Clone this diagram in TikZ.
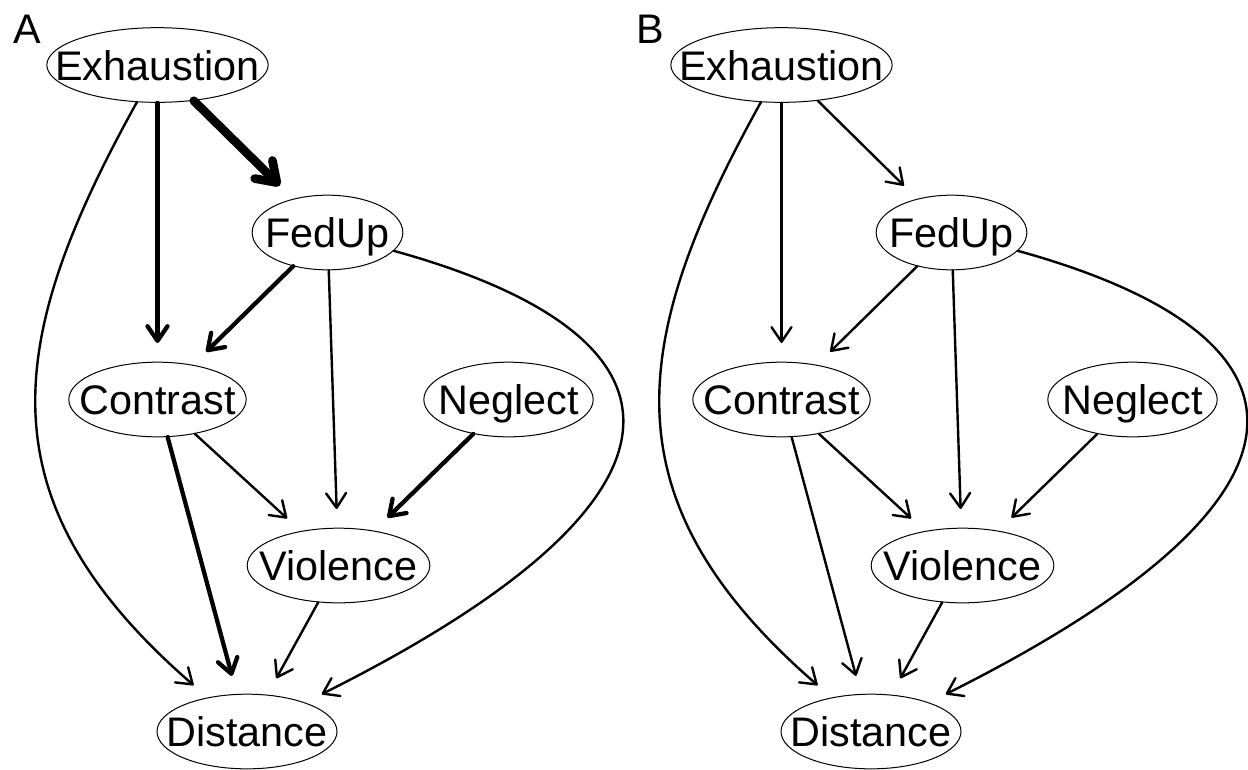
\documentclass[tikz,border=0pt]{standalone}
\usepackage{fontspec}
\setmainfont{Liberation Sans}
\usetikzlibrary{shapes.geometric,arrows.meta}

\tikzset{every picture/.style={line width=0.75pt}}
\tikzset{
var/.style={draw, ellipse, line width=0.75pt, inner sep=0pt, minimum height=56pt,
  text height=22.5pt, text depth=0pt, font=\fontsize{31}{37}\selectfont},
lab/.style={inner sep=0pt, text height=22.5pt, text depth=0pt, font=\fontsize{31}{37}\selectfont},
weak/.style={line width=1.8pt, line cap=round, shorten >=14pt,
  -{Straight Barb[round, length=11pt, width=15pt]}},
strong/.style={weak, line width=3.2pt},
heavy/.style={weak, line width=6.5pt, -{Straight Barb[round, length=14pt, width=19pt]}}}
\newcommand{\vlab}[1]{\makebox[0pt]{#1}}

\begin{document}
\begin{tikzpicture}[x=0.75pt,y=0.75pt,yscale=-1,xscale=1]
\path[use as bounding box] (0,0) rectangle (1248,769);

% Panel A
\node[lab] (labA) at (27,28) {A};
\node[var, minimum width=166pt] (exhA) at (157.5,65) {\vlab{Exhaustion}};
\node[var, minimum width=113pt] (fedA) at (327.5,232.5) {\vlab{FedUp}};
\node[var, minimum width=133pt] (conA) at (157.5,399.5) {\vlab{Contrast}};
\node[var, minimum width=127pt] (negA) at (508.5,399.5) {\vlab{Neglect}};
\node[var, minimum width=137pt] (vioA) at (338.5,565.5) {\vlab{Violence}};
\node[var, minimum width=135pt] (disA) at (247,731.5) {\vlab{Distance}};

\draw[heavy] (exhA) -- (fedA);
\draw[strong] (exhA) -- (conA);
\draw[weak] (exhA) .. controls (5,340) and (-20,500) .. (disA);
\draw[strong] (fedA) -- (conA);
\draw[weak] (fedA) -- (vioA);
\draw[weak] (fedA) .. controls (702,336) and (720,495) .. (disA);
\draw[weak] (conA) -- (vioA);
\draw[strong] (conA) -- (disA);
\draw[strong] (negA) -- (vioA);
\draw[weak] (vioA) -- (disA);

% Panel B
\node[lab] (labB) at (650,28) {B};
\node[var, minimum width=166pt] (exhB) at (781.5,65) {\vlab{Exhaustion}};
\node[var, minimum width=113pt] (fedB) at (951.5,232.5) {\vlab{FedUp}};
\node[var, minimum width=133pt] (conB) at (781.5,399.5) {\vlab{Contrast}};
\node[var, minimum width=127pt] (negB) at (1132.5,399.5) {\vlab{Neglect}};
\node[var, minimum width=137pt] (vioB) at (962.5,565.5) {\vlab{Violence}};
\node[var, minimum width=135pt] (disB) at (871,731.5) {\vlab{Distance}};

\draw[weak] (exhB) -- (fedB);
\draw[weak] (exhB) -- (conB);
\draw[weak] (exhB) .. controls (629,340) and (604,500) .. (disB);
\draw[weak] (fedB) -- (conB);
\draw[weak] (fedB) -- (vioB);
\draw[weak] (fedB) .. controls (1326,336) and (1344,495) .. (disB);
\draw[weak] (conB) -- (vioB);
\draw[weak] (conB) -- (disB);
\draw[weak] (negB) -- (vioB);
\draw[weak] (vioB) -- (disB);

\end{tikzpicture}
\end{document}
